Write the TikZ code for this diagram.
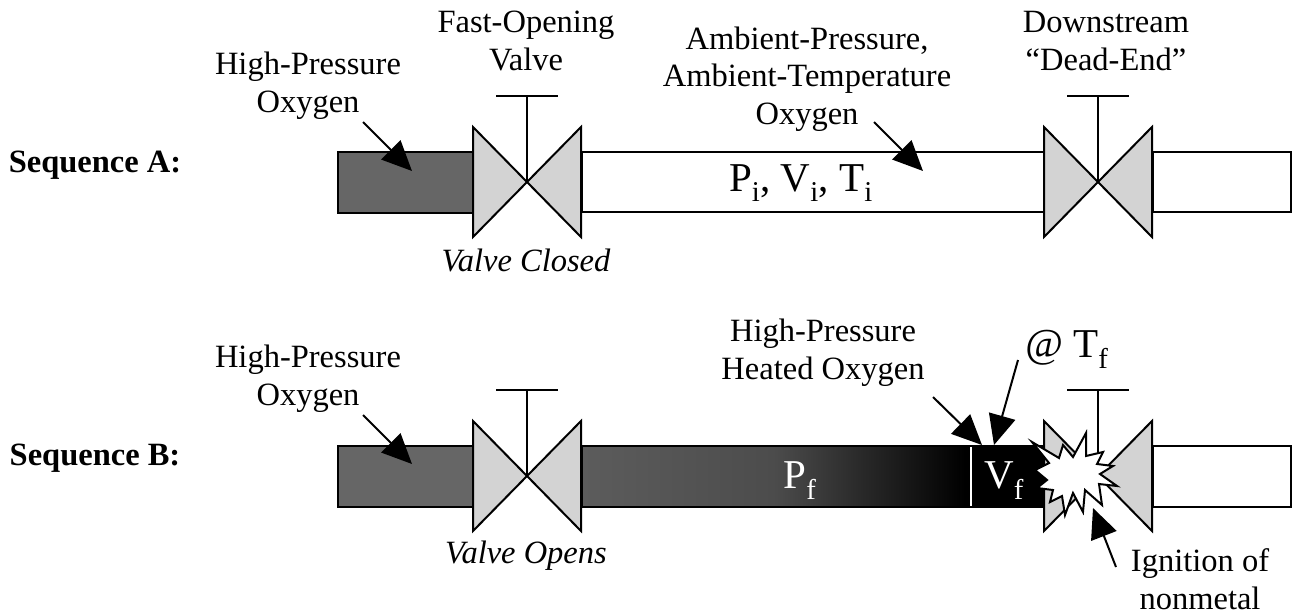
\documentclass[tikz,border=0pt]{standalone}
\usepackage{fontspec}
\setmainfont{Liberation Serif}
\usetikzlibrary{arrows.meta}
\definecolor{valvegray}{HTML}{D3D3D3}
\definecolor{pipegray}{HTML}{666666}
\definecolor{shadeleft}{HTML}{5C5C5C}
\definecolor{shademid}{HTML}{4C4C4C}
\tikzset{
  lbl/.style={font=\fontsize{32.5}{37.5}\selectfont,inner sep=0pt,align=center,anchor=base},
  biglbl/.style={lbl,font=\fontsize{41}{44}\selectfont},
  pipe/.style={draw,line width=2pt},
  valve/.style={draw,line width=2pt,fill=valvegray,line join=miter},
  callout/.style={line width=2pt,-{Triangle[length=30pt,width=27pt]}}
}
\begin{document}
\begin{tikzpicture}[x=1pt,y=-1pt]
\useasboundingbox (0,0) rectangle (1296,614);
% sequence a pipes
\draw [pipe,fill=pipegray] (338,152) rectangle (473,213);
\draw [pipe] (582,152) rectangle (1044,212);
\draw [pipe] (1153,152) rectangle (1291,212);
% sequence b pipes
\draw [pipe,fill=pipegray] (338,446) rectangle (473,507);
\shade [left color=shadeleft,right color=black,middle color=shademid] (582,446) rectangle (965,507);
\fill (965,446) rectangle (1044,507);
\draw [pipe] (582,446) rectangle (1044,507);
\draw [white,line width=1.5pt] (971,447) -- (971,506);
\draw [pipe] (1153,446) rectangle (1291,507);
% valves
\foreach \vx/\vy in {527/182,1098/182,527/476,1098/476} {
  \draw [valve] (\vx-54,\vy-55) -- (\vx,\vy) -- (\vx-54,\vy+55) -- cycle;
  \draw [valve] (\vx+54,\vy-55) -- (\vx,\vy) -- (\vx+54,\vy+55) -- cycle;
  \draw [line width=1.5pt] (\vx,\vy) -- (\vx,\vy-86);
  \draw [line width=2pt] (\vx-31,\vy-86) -- (\vx+31,\vy-86);
}
% burst
\draw [line width=2pt,fill=white,line join=miter] (1032,442) -- (1059,458) -- (1063,445) -- (1073,457)
  -- (1086,433) -- (1086,456) -- (1103,452) -- (1097,464) -- (1113,466) -- (1100,474)
  -- (1117,486) -- (1099,484) -- (1102,505) -- (1085,490) -- (1083,512) -- (1073,493)
  -- (1065,515) -- (1062,496) -- (1050,502) -- (1053,490) -- (1037,488) -- (1047,480)
  -- (1035,470) -- (1049,463) -- cycle;
% labels
\node [lbl,font=\fontsize{32.5}{37.5}\selectfont\bfseries] (seqa) at (95,172) {Sequence A:};
\node [lbl,font=\fontsize{32.5}{37.5}\selectfont\bfseries] (seqb) at (95,465) {Sequence B:};
\node [lbl] (fastvalve) at (526,70) {Fast-Opening\\Valve};
\node [lbl] (hpa) at (308,112) {High-Pressure\\Oxygen};
\node [lbl] (hpb) at (308,405) {High-Pressure\\Oxygen};
\node [lbl] (ambient) at (807,124) {Ambient-Pressure,\\Ambient-Temperature\\Oxygen};
\node [lbl] (deadend) at (1106,70) {Downstream\\“Dead-End”};
\node [biglbl] (pvt) at (801,191) {P\textsubscript{i}, V\textsubscript{i}, T\textsubscript{i}};
\node [lbl,font=\fontsize{32.5}{37.5}\selectfont\itshape] (closed) at (526,271) {Valve Closed};
\node [lbl,font=\fontsize{32.5}{37.5}\selectfont\itshape] (opens) at (526,563) {Valve Opens};
\node [lbl] (heated) at (823,379) {High-Pressure\\Heated Oxygen};
\node [biglbl] (tf) at (1067,357) {\textit{@} T\textsubscript{f}};
\node [biglbl,white] (pf) at (800,488) {P\textsubscript{f}};
\node [biglbl,white] (vf) at (1004,488) {V\textsubscript{f}};
\node [lbl] (ignition) at (1200,609) {Ignition of\\nonmetal};
% callouts
\coordinate (hpatail) at (363,122);
\coordinate (hpatip) at (412,171);
\coordinate (hpbtail) at (363,415);
\coordinate (hpbtip) at (412,464);
\coordinate (amtail) at (874,122);
\coordinate (amtip) at (923,171);
\coordinate (heattail) at (933,397);
\coordinate (heattip) at (982,445);
\coordinate (tftail) at (1018,360);
\coordinate (tftip) at (994,445);
\coordinate (igtail) at (1116,567);
\coordinate (igtip) at (1093,508);
\draw [callout] (hpatail) -- (hpatip);
\draw [callout] (hpbtail) -- (hpbtip);
\draw [callout] (amtail) -- (amtip);
\draw [callout] (heattail) -- (heattip);
\draw [callout] (tftail) -- (tftip);
\draw [callout] (igtail) -- (igtip);
\end{tikzpicture}
\end{document}
